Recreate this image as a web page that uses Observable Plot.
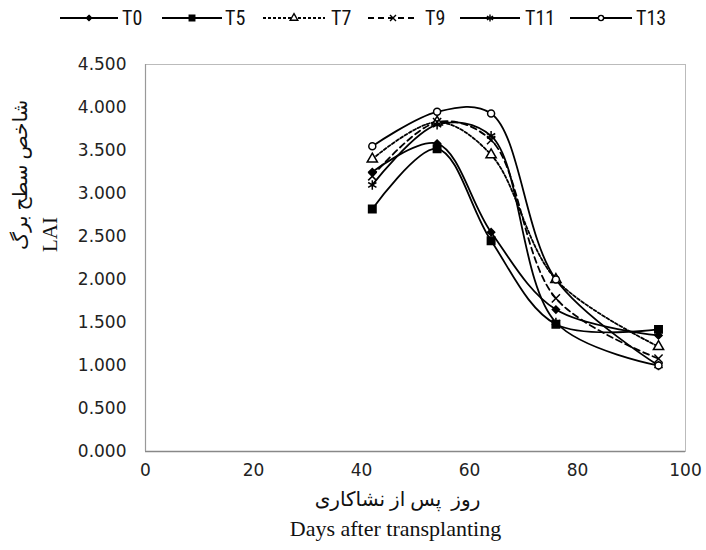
<!DOCTYPE html>
<html>
<head>
<meta charset="utf-8">
<script src="https://cdn.jsdelivr.net/npm/d3@7"></script>
<script src="https://cdn.jsdelivr.net/npm/@observablehq/plot@0.6"></script>
<style>
  html, body { margin: 0; padding: 0; background: #fff; }
  #legend { display: block; }
  #chart svg { display: block; }
</style>
</head>
<body>
<div id="legend"></div>
<div id="chart"></div>
<script>
// ---- data ----
const days = [42, 54, 64, 76, 95];
const seriesNames = ["T0", "T5", "T7", "T9", "T11", "T13"];
const t0  = [3.25, 3.58, 2.55, 1.65, 1.35];
const t5  = [2.82, 3.52, 2.45, 1.48, 1.42];
const t7  = [3.40, 3.83, 3.45, 2.00, 1.22];
const t9  = [3.20, 3.83, 3.62, 1.78, 1.08];
const t11 = [3.10, 3.80, 3.67, 1.50, 1.00];
const t13 = [3.55, 3.95, 3.93, 2.00, 1.00];
const xTicks = [0, 20, 40, 60, 80, 100];
const yTicks = [0, 0.5, 1, 1.5, 2, 2.5, 3, 3.5, 4, 4.5];
const xTitleFa = "روز  پس از نشاکاری";
const xTitleEn = "Days after transplanting";
const yTitleFa = "شاخص سطح برگ";
const yTitleEn = "LAI";

const seriesValues = [t0, t5, t7, t9, t11, t13];
const styles = {
  T0:  {symbol: "diamond2", fill: "black", stroke: "black", r: 3.2, dash: null},
  T5:  {symbol: "square", fill: "black", stroke: "black", r: 4.2, dash: null},
  T7:  {symbol: "triangle", fill: "white", stroke: "black", r: 3.8, dash: "3,2"},
  T9:  {symbol: "times", fill: "none", stroke: "black", r: 3.8, dash: "6,4"},
  T11: {symbol: "asterisk", fill: "none", stroke: "black", r: 4.5, dash: null},
  T13: {symbol: "circle", fill: "white", stroke: "black", r: 3.5, dash: null}
};

const rows = seriesNames.flatMap((s, i) =>
  seriesValues[i].map((v, j) => ({series: s, day: days[j], lai: v})));

// ---- legend ----
const legendW = 706, legendH = 38;
const lsvg = d3.select("#legend").append("svg")
  .attr("width", legendW).attr("height", legendH);
const legendPos = [
  {x0: 60, x1: 118, tx: 122},
  {x0: 162, x1: 222, tx: 225},
  {x0: 263, x1: 325, tx: 331},
  {x0: 368, x1: 418, tx: 425},
  {x0: 460, x1: 520, tx: 525},
  {x0: 570, x1: 632, tx: 636}
];
const symMap = {diamond2: d3.symbolDiamond2, square: d3.symbolSquare, triangle: d3.symbolTriangle,
  times: d3.symbolTimes, asterisk: d3.symbolAsterisk, circle: d3.symbolCircle};
seriesNames.forEach((s, i) => {
  const st = styles[s], p = legendPos[i], cy = 18;
  lsvg.append("line").attr("x1", p.x0).attr("x2", p.x1).attr("y1", cy).attr("y2", cy)
    .attr("stroke", "black").attr("stroke-width", 2)
    .attr("stroke-dasharray", st.dash);
  lsvg.append("path")
    .attr("d", d3.symbol(symMap[st.symbol], Math.PI * st.r * st.r * 0.55)())
    .attr("transform", `translate(${(p.x0 + p.x1) / 2},${cy})`)
    .attr("fill", st.fill).attr("stroke", st.stroke).attr("stroke-width", 1.4);
  lsvg.append("text").attr("x", p.tx).attr("y", cy + 7)
    .attr("font-family", "'Liberation Sans Narrow', 'Roboto Condensed', 'Liberation Sans', Arial, sans-serif")
    .attr("font-size", 20).attr("fill", "#111").text(s);
});

// ---- chart ----
const marks = [
  Plot.frame({stroke: "#bbb", strokeWidth: 1}),
  Plot.ruleY([0], {stroke: "#888", strokeWidth: 1.5}),
  Plot.ruleX([0], {stroke: "#999", strokeWidth: 1.2})
];
seriesNames.forEach(s => {
  const st = styles[s];
  const d = rows.filter(r => r.series === s);
  marks.push(Plot.line(d, {x: "day", y: "lai", curve: "catmull-rom", stroke: "black",
    strokeWidth: 1.8, strokeDasharray: st.dash}));
});
seriesNames.forEach(s => {
  const st = styles[s];
  const d = rows.filter(r => r.series === s);
  marks.push(Plot.dot(d, {x: "day", y: "lai", symbol: st.symbol, r: st.r,
    fill: st.fill, stroke: st.stroke, strokeWidth: 1.5}));
});
marks.push(
  Plot.axisX({ticks: xTicks, tickSize: 0, tickPadding: 12, fontSize: 17, label: null, tickFormat: d => String(d)}),
  Plot.axisY({ticks: yTicks, tickSize: 0, tickPadding: 19, fontSize: 17, label: null, tickFormat: d3.format(".3f")}),
  Plot.text([xTitleFa], {frameAnchor: "bottom", dy: 54, dx: -18, fontSize: 20,
    fontFamily: "'Liberation Serif', 'DejaVu Serif', 'DejaVu Sans', serif", fill: "#111", text: d => d}),
  Plot.text([xTitleEn], {frameAnchor: "bottom", dy: 84, dx: -20, fontSize: 22,
    fontFamily: "'Liberation Serif', serif", fill: "#111", text: d => d}),
  Plot.text([yTitleFa], {frameAnchor: "left", dx: -125, dy: -8, rotate: -90, fontSize: 20,
    fontFamily: "'Liberation Serif', 'DejaVu Sans', serif", fill: "#111", text: d => d}),
  Plot.text([yTitleEn], {frameAnchor: "left", dx: -95, dy: -6, rotate: -90, fontSize: 21,
    fontFamily: "'Liberation Serif', serif", fill: "#111", text: d => d})
);

const chart = Plot.plot({
  width: 706,
  height: 512,
  marginTop: 22,
  marginBottom: 103,
  marginLeft: 145,
  marginRight: 21,
  style: {fontFamily: "'DejaVu Sans', Verdana, sans-serif", color: "#222", background: "white", overflow: "visible"},
  x: {domain: [0, 100]},
  y: {domain: [0, 4.5]},
  marks
});
document.getElementById("chart").appendChild(chart);
</script>
</body>
</html>
